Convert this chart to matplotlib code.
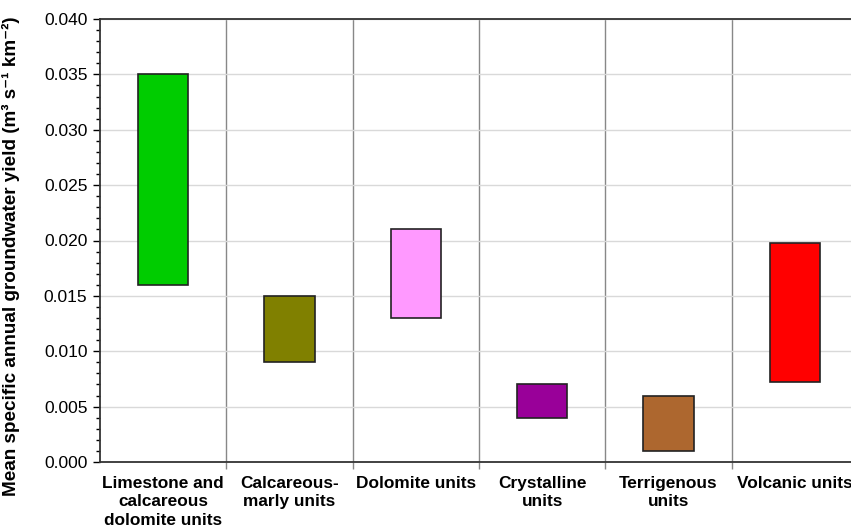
import matplotlib.pyplot as plt
import numpy as np
from matplotlib.ticker import MultipleLocator, FormatStrFormatter

plt.rcParams["font.family"] = ["Liberation Sans", "DejaVu Sans"]

units = [
    "Limestone and\ncalcareous\ndolomite units",
    "Calcareous-\nmarly units",
    "Dolomite units",
    "Crystalline\nunits",
    "Terrigenous\nunits",
    "Volcanic units",
]
yield_low = [0.016, 0.009, 0.013, 0.004, 0.001, 0.0072]
yield_high = [0.035, 0.015, 0.021, 0.007, 0.006, 0.0198]
colors = ["#00CC00", "#808000", "#FF99FF", "#990099", "#AD672F", "#FF0000"]

fig = plt.figure(figsize=(8.51, 5.29), dpi=100)
ax = fig.add_axes([100 / 851, 1 - 462 / 529, 758 / 851, 443 / 529])

x = np.arange(len(units)) + 0.5
heights = np.array(yield_high) - np.array(yield_low)
ax.bar(x, heights, bottom=yield_low, width=0.4, color=colors,
       edgecolor="#222222", linewidth=1.2, zorder=3)

ax.set_xlim(0, len(units))
ax.set_ylim(0, 0.04)

ax.yaxis.set_major_locator(MultipleLocator(0.005))
ax.yaxis.set_minor_locator(MultipleLocator(0.001))
ax.yaxis.set_major_formatter(FormatStrFormatter("%.3f"))
ax.tick_params(axis="y", which="major", length=5, width=1, labelsize=12.5, pad=4)
ax.tick_params(axis="y", which="minor", length=3, width=1)
ax.grid(axis="y", which="major", color="#d9d9d9", linewidth=1, zorder=0)

# separators between geological units
ax.set_xticks(x)
ax.set_xticklabels(units, fontsize=12.4, fontweight="bold", linespacing=1.3)
ax.set_xticks(np.arange(1, len(units)), minor=True)
ax.tick_params(axis="x", which="major", length=0, pad=10)
ax.tick_params(axis="x", which="minor", length=5, color="#888888", width=1)
ax.grid(axis="x", which="minor", color="#888888", linewidth=1, zorder=1)

for side in ["left", "bottom", "top", "right"]:
    ax.spines[side].set_color("#333333")
    ax.spines[side].set_linewidth(1.3)

ax.set_ylabel("Mean specific annual groundwater yield (m³ s⁻¹ km⁻²)",
              fontsize=13.6, fontweight="bold")
ax.yaxis.set_label_coords(-0.1055, 0.465)

fig.savefig("out.png", dpi=100)
